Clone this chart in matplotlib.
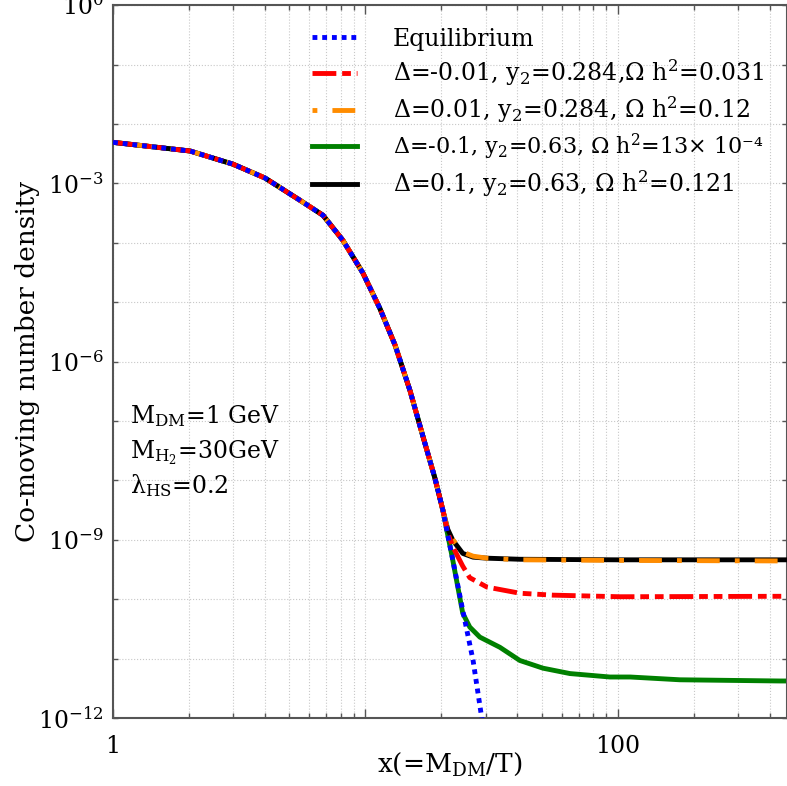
import matplotlib
matplotlib.use("Agg")
import matplotlib.pyplot as plt
from matplotlib.ticker import FixedLocator, NullFormatter, FixedFormatter

plt.rcParams['font.family'] = 'DejaVu Serif'
plt.rcParams['mathtext.fontset'] = 'dejavuserif'

# equilibrium curve (all models follow it up to x ~ 20)
x_eq = [1.0, 2.02, 2.99, 4.0, 5.5, 6.79, 8.14, 9.77, 11.4, 13.1, 15.0, 16.9, 18.85,
        20.27, 21.2, 22.0, 24.3, 26.7, 28.9, 31.0]
y_eq = [4.9e-3, 3.5e-3, 2.1e-3, 1.23e-3, 5.2e-4, 2.9e-4, 1.1e-4, 3.1e-5, 7.9e-6,
        1.9e-6, 3.3e-7, 5.5e-8, 1.09e-8, 3.15e-9, 1.19e-9, 5.5e-10, 6.5e-11,
        9.3e-12, 1.0e-12, 3.0e-13]
n_common = 14

# freeze-out branches after x ~ 20
x_m001 = [21.2, 22.2, 24.3, 25.9, 30.3, 40.9, 55.3, 102, 470]
y_m001 = [1.3e-9, 7.6e-10, 3.6e-10, 2.3e-10, 1.6e-10, 1.26e-10, 1.17e-10, 1.1e-10, 1.12e-10]

x_p001 = [21.0, 22.0, 24.3, 26.7, 30.3, 40.9, 100, 470]
y_p001 = [1.7e-9, 1.05e-9, 6.2e-10, 5.3e-10, 4.9e-10, 4.6e-10, 4.5e-10, 4.4e-10]

x_m01 = [21.2, 22.0, 24.3, 25.9, 28.4, 34.1, 40.9, 50.5, 64.6, 93, 112, 176, 438, 470]
y_m01 = [1.19e-9, 5.5e-10, 5.8e-11, 3.4e-11, 2.3e-11, 1.55e-11, 9.3e-12, 6.9e-12,
         5.6e-12, 4.9e-12, 4.9e-12, 4.4e-12, 4.2e-12, 4.2e-12]

x_p01 = [21.2, 22.2, 24.3, 26.7, 30.3, 40.9, 100, 470]
y_p01 = [1.5e-9, 9.8e-10, 5.9e-10, 5.1e-10, 4.9e-10, 4.7e-10, 4.6e-10, 4.6e-10]

labels = [
    "Equilibrium",
    r"$\Delta$=-0.01, y$_2$=0.284,$\Omega$ h$^2$=0.031",
    r"$\Delta$=0.01, y$_2$=0.284, $\Omega$ h$^2$=0.12",
    r"$\Delta$=-0.1, y$_2$=0.63, $\Omega$ h$^2$=13× 10⁻⁴",
    r"$\Delta$=0.1, y$_2$=0.63, $\Omega$ h$^2$=0.121",
]

fig = plt.figure(figsize=(7.87, 7.86), dpi=100)
ax = fig.add_axes([0.1436, 0.0865, 0.857, 0.907])

lw = 3.5
xc, yc = x_eq[:n_common], y_eq[:n_common]
g, = ax.plot(xc + x_m01, yc + y_m01, color='green', lw=lw, zorder=2)
k, = ax.plot(xc + x_p01, yc + y_p01, color='black', lw=lw, zorder=3)
o, = ax.plot(xc + x_p001, yc + y_p001, color='#ff8c00', lw=lw,
             ls=(0, (1.0, 3.1, 4.7, 3.1)), zorder=4)
r, = ax.plot(xc + x_m001, yc + y_m001, color='red', lw=lw,
             ls=(0, (4.9, 1.2, 1.8, 1.2, 1.8, 1.2)), zorder=5)
b, = ax.plot(x_eq, y_eq, color='blue', lw=lw, ls=(0, (1, 1)), zorder=6)

ax.set_xscale('log')
ax.set_yscale('log')
ax.set_xlim(1, 470)
ax.set_ylim(1e-12, 1)

# ticks
ydec = [10.0 ** (-i) for i in range(13)]
ax.yaxis.set_major_locator(FixedLocator(ydec))
ax.yaxis.set_major_formatter(FixedFormatter(
    [r"$10^{%d}$" % (-i) if i % 3 == 0 else "" for i in range(13)]))
ax.yaxis.set_minor_locator(FixedLocator([]))
ax.xaxis.set_major_locator(FixedLocator([1, 10, 100]))
ax.xaxis.set_major_formatter(FixedFormatter(["1", "", "100"]))
ax.xaxis.set_minor_locator(FixedLocator([m * d for d in (1, 10, 100) for m in range(2, 10)]))
ax.xaxis.set_minor_formatter(NullFormatter())

ax.tick_params(which='both', direction='in', top=True, right=True, labelsize=17,
               color='#555555')
ax.tick_params(axis='x', which='major', length=6.5, width=1.0, pad=12)
ax.tick_params(axis='x', which='minor', length=3.5, width=1.0)
ax.tick_params(axis='y', which='major', length=3.5, width=1.0, pad=7)

for s in ax.spines.values():
    s.set_color('#555555')
    s.set_linewidth(1.5)

ax.grid(True, which='major', axis='y', ls=':', color='#c8c8c8', lw=0.8)
ax.grid(True, which='both', axis='x', ls=':', color='#c8c8c8', lw=0.8)
ax.set_axisbelow(True)

ax.set_xlabel(r"x(=M$_{\rm DM}$/T)", fontsize=19)
ax.xaxis.set_label_coords(0.5, -0.046)
ax.set_ylabel("Co-moving number density", fontsize=19)
ax.yaxis.set_label_coords(-0.108, 0.5)

leg = ax.legend([b, r, o, g, k], labels, loc='upper left', frameon=False, fontsize=17,
                handlelength=1.9, handletextpad=1.5, labelspacing=0.28,
                bbox_to_anchor=(0.271, 0.9916), borderaxespad=0.3)
leg.get_texts()[3].set_fontsize(16)

ax.text(0.025, 0.4137, r"M$_{\rm DM}$=1 GeV", transform=ax.transAxes, fontsize=17)
ax.text(0.025, 0.3646, r"M$_{\rm H_2}$=30GeV", transform=ax.transAxes, fontsize=17)
ax.text(0.025, 0.3156, r"λ$_{\rm HS}$=0.2", transform=ax.transAxes, fontsize=17)

fig.savefig("out.png", dpi=100)
